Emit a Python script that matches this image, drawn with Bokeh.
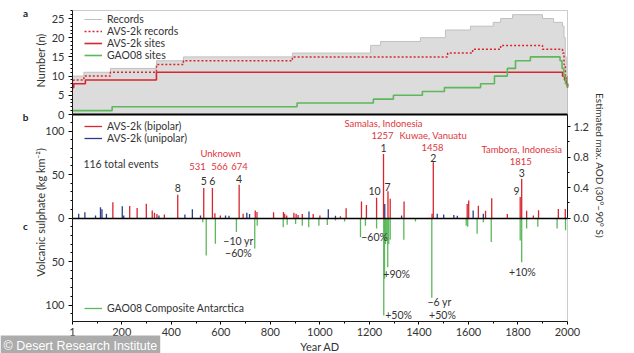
import math
from bokeh.plotting import figure
from bokeh.models import (Range1d, LinearAxis, FixedTicker, CustomJSTickFormatter,
                          Legend, LegendItem, Label, BoxAnnotation, PrintfTickFormatter)
from bokeh.embed import file_html
from bokeh.resources import INLINE

# ---------------- Panel a: number of records (step series) ----------------
records_years = [1, 47, 154, 340, 449, 889, 1205, 1245, 1406, 1507, 1608, 1700, 1730, 1778, 1899, 1944, 1980, 1986, 1991, 1995, 2000]
records_n = [10, 11, 12, 14, 15, 16, 18, 19, 20, 22, 23, 24, 25, 26, 25, 24, 23, 20, 15, 10, 8]
avs_records_years = [1, 6, 47, 154, 340, 449, 889, 1516, 1617, 1730, 1899, 1980, 1986, 1991, 1995, 2000]
avs_records_n = [8, 9, 10, 11, 13, 14, 15, 16, 17, 18, 17, 16, 13, 10, 8, 7]
avs_sites_years = [1, 6, 53, 340, 1980, 1988, 1994, 2000]
avs_sites_n = [7, 8, 9, 11, 10, 9, 8, 7]
gao_sites_years = [1, 161, 908, 1216, 1297, 1414, 1503, 1649, 1705, 1757, 1790, 1850, 1970, 1978, 1985, 1992, 2000]
gao_sites_n = [1, 2, 3, 4, 5, 6, 7, 8, 10, 12, 14, 15, 14, 12, 10, 8, 7]

# ---------------- Panel b: AVS-2k volcanic sulphate (kg km-2) ----------------
bipolar_years = [164, 232, 262, 299, 323, 332, 342, 372, 426, 531, 566, 576, 598, 674, 690, 739, 746,
                 813, 853, 858, 866, 895, 904, 912, 929, 973, 1000, 1083, 1106, 1168, 1188, 1229, 1257,
                 1275, 1284, 1340, 1453, 1458, 1595, 1601, 1640, 1669, 1694, 1757, 1809, 1815, 1835,
                 1862, 1883, 1963, 1991]
bipolar_so4 = [18, 13.8, 11.5, 16.5, 8.5, 6, 4.5, 4, 26.8, 34.5, 34.5, 5.5, 3, 38.2, 5, 8.6, 7,
               6.5, 6.8, 5, 3, 6, 5, 3.5, 4.5, 4.5, 3, 2, 11.3, 19, 15, 23.2, 73.5,
               30.8, 22, 19, 5, 64.2, 16, 20, 14.2, 8.4, 22.8, 4.6, 24, 45, 8.4,
               3, 9, 10.3, 10.3]
unipolar_years = [26, 51, 94, 114, 120, 138, 202, 208, 350, 455, 485, 518, 619, 633, 705, 716, 956,
                  1034, 1063, 1262, 1330, 1474, 1500, 1541, 1555, 1619, 1660]
unipolar_so4 = [4.8, 6.6, 3, 12.4, 10, 5, 13.5, 3, 3, 4, 10, 3, 3, 2.5, 6, 4.5, 7.5,
                10, 2.5, 16, 3, 5, 4, 3.5, 2.5, 8.5, 5]

# ---------------- Panel c: GAO08 composite Antarctica (kg km-2, drawn downward) ----------------
gao_years = [527, 541, 578, 663, 737, 747, 852, 868, 902, 929, 955, 996, 1030, 1063, 1100, 1164, 1184,
             1229, 1258, 1261, 1265, 1270, 1274, 1278, 1284, 1339, 1386, 1452, 1591, 1597, 1635, 1660,
             1692, 1809, 1815, 1835, 1880, 1958, 1992]
gao_so4 = [5, 43, 29.7, 16, 35, 9, 10.5, 7.8, 7, 9, 10.5, 9, 8, 3, 4, 22, 9,
           12, 112, 70, 30, 25, 56.5, 30, 25, 25, 4, 91.7, 9, 10, 18, 5,
           27.7, 26, 50.8, 12, 10, 12, 14]

x_ticks = [1, 200, 400, 600, 800, 1000, 1200, 1400, 1600, 1800, 2000]
n_ticks = [0, 5, 10, 15, 20, 25]
so4_ticks = [-100, -50, 0, 50, 100]
aod_ticks = [0, 0.4, 0.8, 1.2]

# ---------------- layout geometry (pixels of the 634x353 canvas) ----------------
W, H = 634, 353
X0_PX, X1_PX = 72, 567            # year 1 .. year 2000
A_TOP_PX, A_ZERO_PX = 10, 114     # panel a
BC_ZERO_PX, BC_BOT_PX = 217.5, 321
KX = (X1_PX - X0_PX) / 1999.0
K_N = 3.84       # px per record
K_S = 0.87       # px per kg km-2
K_A = 76.25      # px per AOD unit
N_TOP = (A_ZERO_PX - A_TOP_PX) / K_N
S_LIM = (BC_BOT_PX - BC_ZERO_PX) / K_S
AOD_TOP = (BC_ZERO_PX - A_ZERO_PX) / K_A

FONT = "Lato"
RED = "#d9252e"
RED_TXT = "#e0353c"
BLUE = "#2f3c8c"
GREEN = "#5cb85a"
GRAY_FILL = "#dcdcdc"
TXT = "#333333"


def yr(px):
    return 1 + (px - X0_PX) / KX


def s_of(py):
    return (BC_ZERO_PX - py) / K_S


def n_of(py):
    return (A_ZERO_PX - py) / K_N


p = figure(width=W, height=H,
           x_range=Range1d(yr(0), yr(W)),
           y_range=Range1d(s_of(H), s_of(0)),
           x_axis_location=None, y_axis_location=None,
           output_backend="svg", toolbar_location=None, min_border=0)
p.grid.visible = False
p.outline_line_color = None
p.extra_y_ranges = {"na": Range1d(n_of(H), n_of(0)),
                    "aod": Range1d((BC_ZERO_PX - H) / K_A, BC_ZERO_PX / K_A)}


def style_axis(ax, size="11px"):
    ax.axis_line_color = "black"
    ax.axis_line_width = 1
    ax.major_tick_line_color = "black"
    ax.minor_tick_line_color = "black"
    ax.major_tick_out = 4
    ax.major_tick_in = 0
    ax.minor_tick_out = 2
    ax.minor_tick_in = 0
    ax.major_label_standoff = 4
    ax.major_label_text_font = FONT
    ax.major_label_text_font_size = size
    ax.major_label_text_color = TXT


def txt(x, y, s, color=TXT, size="10.5px", align="center", baseline="middle",
        angle=0.0, style="normal", font=FONT, yrange="default"):
    p.add_layout(Label(x=x, y=y, text=s, text_color=color, text_font=font,
                       text_font_size=size, text_align=align, text_baseline=baseline,
                       angle=angle, text_font_style=style, y_range_name=yrange))


# ---------- axes (fixed in place, so the frame is the whole canvas) ----------
ax_a = LinearAxis(y_range_name="na", fixed_location=1, bounds=(0, N_TOP),
                  ticker=FixedTicker(ticks=n_ticks, minor_ticks=list(range(0, 28))))
style_axis(ax_a)
p.add_layout(ax_a, "left")

ax_b = LinearAxis(fixed_location=1, bounds=(-S_LIM, S_LIM),
                  ticker=FixedTicker(ticks=so4_ticks, minor_ticks=list(range(-110, 120, 10))),
                  formatter=CustomJSTickFormatter(code="return Math.abs(tick).toString();"))
style_axis(ax_b)
p.add_layout(ax_b, "left")

ax_r = LinearAxis(y_range_name="aod", fixed_location=2000, bounds=(0, AOD_TOP),
                  ticker=FixedTicker(ticks=aod_ticks, minor_ticks=[0.2, 0.6, 1.0]),
                  formatter=PrintfTickFormatter(format="%.1f"))
style_axis(ax_r)
ax_r.major_tick_out = 3
ax_r.major_label_standoff = 3
p.add_layout(ax_r, "right")

ax_x = LinearAxis(fixed_location=-S_LIM, bounds=(1, 2000),
                  ticker=FixedTicker(ticks=x_ticks, minor_ticks=list(range(100, 2000, 100))))
style_axis(ax_x)
ax_x.major_tick_out = 3
ax_x.major_label_standoff = 3
p.add_layout(ax_x, "below")

# ---------- panel a ----------
p.varea_step(x=records_years, y1=[0] * len(records_n), y2=records_n, step_mode="after",
             fill_color=GRAY_FILL, y_range_name="na")
r_rec = p.step(records_years, records_n, mode="after", line_color="#c0c0c0", line_width=1,
               y_range_name="na")
r_avr = p.step(avs_records_years, avs_records_n, mode="after", line_color=RED,
               line_width=1.5, line_dash="2 2", y_range_name="na")
r_avs = p.step(avs_sites_years, avs_sites_n, mode="after", line_color=RED, line_width=1.6,
               y_range_name="na")
r_gao = p.step(gao_sites_years, gao_sites_n, mode="after", line_color=GREEN, line_width=1.6,
               y_range_name="na")

# ---------- panels b and c ----------
r_bi = p.segment(x0=bipolar_years, y0=[0] * len(bipolar_years), x1=bipolar_years, y1=bipolar_so4,
                 line_color=RED, line_width=1.3)
r_uni = p.segment(x0=unipolar_years, y0=[0] * len(unipolar_years), x1=unipolar_years, y1=unipolar_so4,
                  line_color=BLUE, line_width=1.3)
r_gc = p.segment(x0=gao_years, y0=[0] * len(gao_years), x1=gao_years, y1=[-v for v in gao_so4],
                 line_color=GREEN, line_width=1.3)

# zero lines of the two panels (tick-less axes)
z_a = LinearAxis(y_range_name="na", fixed_location=0, bounds=(1, 2000),
                 ticker=FixedTicker(ticks=[]), axis_line_width=2, axis_line_color="black",
                 major_label_text_font_size="0px")
p.add_layout(z_a, "below")
z_b = LinearAxis(fixed_location=0, bounds=(1, 2000),
                 ticker=FixedTicker(ticks=[]), axis_line_width=1.5, axis_line_color="black",
                 major_label_text_font_size="0px")
p.add_layout(z_b, "below")

# outer box of the figure panels
p.add_layout(BoxAnnotation(left=1, right=2000, bottom=-S_LIM, top=s_of(A_TOP_PX),
                           fill_alpha=0, line_color="#555555", line_width=1))


def make_legend(items, left_px, top_px):
    rows = len(items)
    bottom_px = top_px + rows * 12
    return Legend(items=items, location=(left_px, H - bottom_px), padding=0, spacing=0, margin=0,
                  glyph_width=18, glyph_height=12, label_height=12, label_standoff=5,
                  label_text_font=FONT, label_text_font_size="10.5px", label_text_color=TXT,
                  border_line_alpha=0, background_fill_alpha=0)


p.add_layout(make_legend([LegendItem(label="Records", renderers=[r_rec]),
                          LegendItem(label="AVS-2k records", renderers=[r_avr]),
                          LegendItem(label="AVS-2k sites", renderers=[r_avs]),
                          LegendItem(label="GAO08 sites", renderers=[r_gao])], 84, 13))
p.add_layout(make_legend([LegendItem(label="AVS-2k (bipolar)", renderers=[r_bi]),
                          LegendItem(label="AVS-2k (unipolar)", renderers=[r_uni])], 84, 120))
p.add_layout(make_legend([LegendItem(label="GAO08 Composite Antarctica", renderers=[r_gc])], 84, 302))

# ---------- axis titles ----------
txt(yr(40), n_of(60), "Number (n)", size="11px", angle=math.pi / 2, yrange="na")
txt(yr(40), s_of(212), "Volcanic sulphate (kg km\u207b\u00b2)", size="11px", angle=math.pi / 2)
txt(yr(599), s_of(165), "Estimated max. AOD (30\u00b0\u201390\u00b0 S)", size="10px", angle=-math.pi / 2)
txt(yr(319.5), s_of(346), "Year AD", size="11px")

# panel letters
txt(yr(25), n_of(12), "a", color="#222", size="10px", style="bold", yrange="na")
txt(yr(25), s_of(116), "b", color="#222", size="10px", style="bold")
txt(yr(25), s_of(225), "c", color="#222", size="10px", style="bold")

# ---------- annotations panel b ----------
RS = "9.5px"
txt(45, 62.6, "116 total events", align="left")
txt(599, 74, "Unknown", color=RED_TXT, size=RS)
txt(yr(197), 59, "531", color=RED_TXT, size=RS)
txt(yr(219), 59, "566", color=RED_TXT, size=RS)
txt(675, 59, "674", color=RED_TXT, size=RS)
txt(426, 35, "8")
txt(531, 43, "5")
txt(566, 43, "6")
txt(674, 45.4, "4")
txt(1257, 108.6, "Samalas, Indonesia", color=RED_TXT, size=RS)
txt(1253, 94.8, "1257", color=RED_TXT, size=RS)
txt(1257, 81, "1")
txt(1458, 94.8, "Kuwae, Vanuatu", color=RED_TXT, size=RS)
txt(1455, 81, "1458", color=RED_TXT, size=RS)
txt(1458, 69.5, "2")
txt(1815, 78.7, "Tambora, Indonesia", color=RED_TXT, size=RS)
txt(1811, 65, "1815", color=RED_TXT, size=RS)
txt(1815, 52, "3")
txt(1794, 30.5, "9")
txt(1221, 30.5, "10")
txt(1273, 36, "7")

# ---------- annotations panel c ----------
txt(671, -27, "\u221210 yr")
txt(671, -40.8, "\u221260%")
txt(1221, -21.3, "\u221260%")
txt(1310, -63.8, "+90%")
txt(1318, -112, "+50%")
txt(1483, -97, "\u22126 yr")
txt(1495, -112, "+50%")
txt(1818, -61.5, "+10%")

# ---------- watermark ----------
p.add_layout(Label(x=yr(0), y=s_of(345), text="\u00a9 Desert Research Institute", text_color="white",
                   text_font="Liberation Sans", text_font_size="12.5px", text_align="left",
                   text_baseline="middle", background_fill_color="#a3a3a3",
                   background_fill_alpha=0.9, padding=3))

open("out.html", "w").write(file_html(p, INLINE))
